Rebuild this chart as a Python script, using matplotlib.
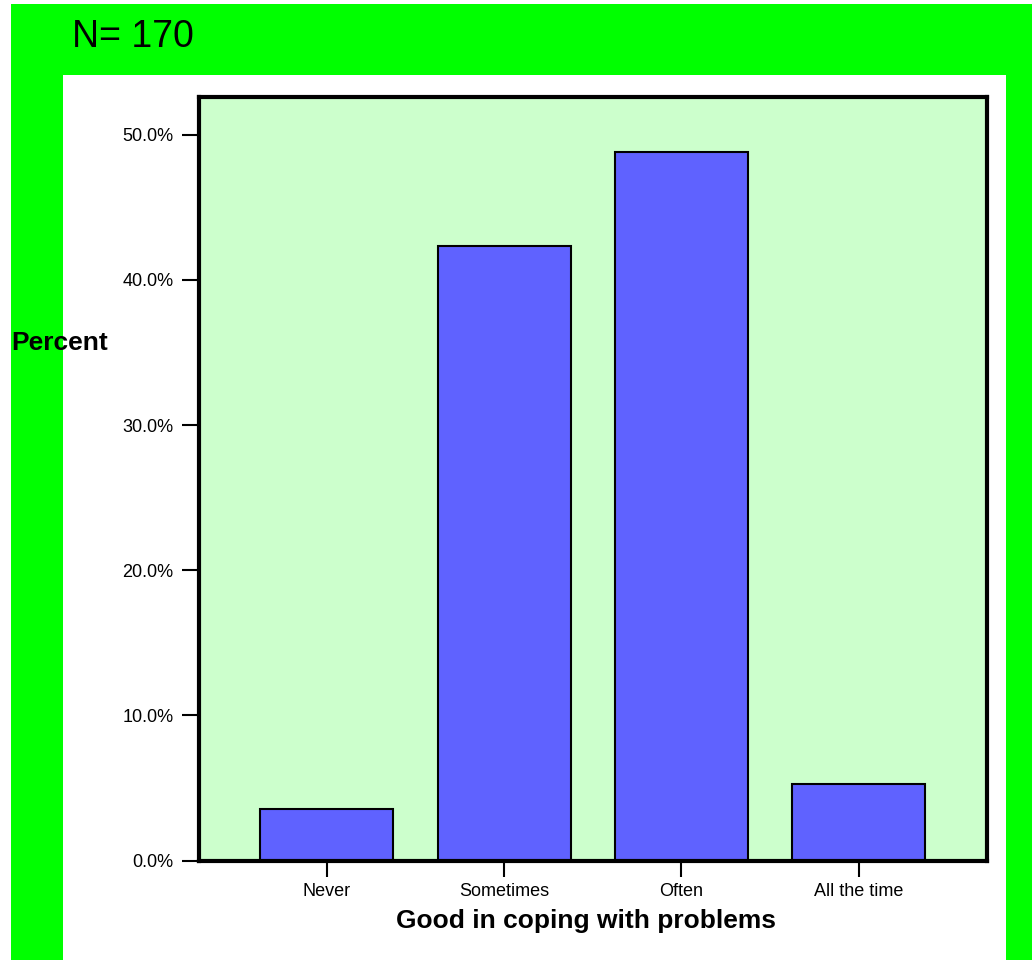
import matplotlib
matplotlib.use('Agg')
import matplotlib.pyplot as plt
from matplotlib.patches import Rectangle
from matplotlib.ticker import FuncFormatter

plt.rcParams['font.family'] = ['Liberation Sans', 'DejaVu Sans']

categories = ['Never', 'Sometimes', 'Often', 'All the time']
counts = [6, 72, 83, 9]
n_total = sum(counts)
percents = [100.0 * c / n_total for c in counts]
yticks = [0, 10, 20, 30, 40, 50]

W, H = 1032, 960
fig = plt.figure(figsize=(W / 100, H / 100), dpi=100)
fig.patch.set_facecolor('white')

# green frame and white panel behind the plot
fig.patches.append(Rectangle((11 / W, 0), 1 - 11 / W, 1 - 4 / H,
                             transform=fig.transFigure, facecolor='#00ff00',
                             edgecolor='none', zorder=-10))
fig.patches.append(Rectangle((63 / W, 0), (1006 - 63) / W, 1 - 75 / H,
                             transform=fig.transFigure, facecolor='white',
                             edgecolor='none', zorder=-9))

x0, x1, ytop, ybot = 199, 986.5, 97, 860.5
ax = fig.add_axes([x0 / W, 1 - ybot / H, (x1 - x0) / W, (ybot - ytop) / H])
ax.set_facecolor('#ccffcc')

xs = list(range(len(categories)))
ax.bar(xs, percents, width=0.75, color='#5f62ff', edgecolor='black',
       linewidth=1.5, zorder=2)

ax.set_xlim(-0.72, 3.72)
ax.set_ylim(0, 52.6)
ax.set_xticks(xs)
ax.set_xticklabels(categories)
ax.set_yticks(yticks)
ax.yaxis.set_major_formatter(FuncFormatter(lambda v, p: '{:.1f}%'.format(v)))

for s in ax.spines.values():
    s.set_linewidth(3)
    s.set_color('black')

ax.tick_params(axis='y', length=12, width=1.5, pad=6.5, labelsize=13)
ax.tick_params(axis='x', length=11.5, width=1.5, pad=5, labelsize=13)

ax.set_xlabel('Good in coping with problems', fontsize=19, fontweight='bold',
              va='center')
ax.xaxis.set_label_coords(0.492, (ybot - 921) / (ybot - ytop))
ax.set_ylabel('Percent', fontsize=19, fontweight='bold', rotation=0,
              ha='left', va='center')
ax.yaxis.set_label_coords((11 - x0) / (x1 - x0), (ybot - 343) / (ybot - ytop))

fig.text(72 / W, 1 - 47 / H, 'N= {}'.format(n_total), fontsize=27,
         ha='left', va='baseline')

fig.savefig('out.png', dpi=100)
